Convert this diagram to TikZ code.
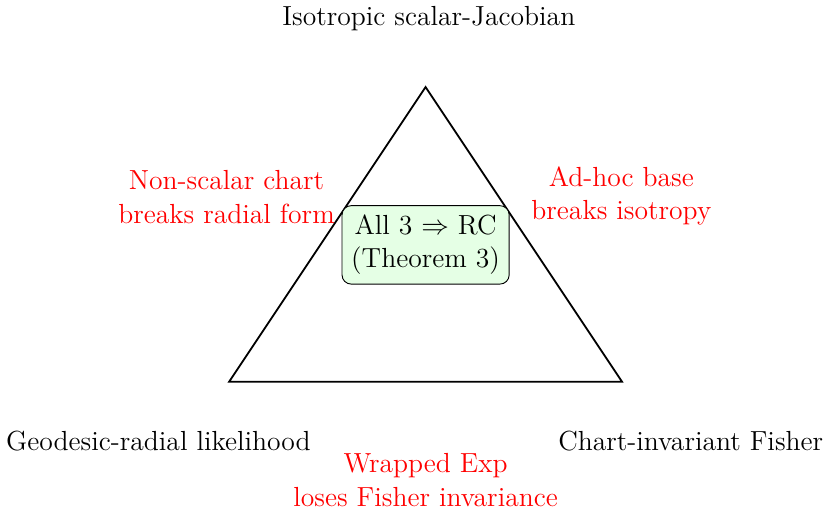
\documentclass[12pt,tikz,border=0pt]{standalone}
\usepackage{amsmath,amssymb}
\usepackage{xcolor}
\usepackage{tikz}
\usetikzlibrary{shapes,arrows,positioning}

\begin{document}
\begin{tikzpicture}[scale=1.0,
    flaw/.style={text=red, align=center},
    corner/.style={align=center},
    result/.style={draw, rounded corners, fill=green!10, align=center}]
\useasboundingbox (-6.5,-3.52) rectangle (6.1,4.33);
% Triangle corners
\coordinate (top) at (0,3);
\coordinate (left) at (-3,-1.5);
\coordinate (right) at (3,-1.5);
\draw[thick] (top) -- (left) -- (right) -- cycle;
% Properties at the corners
\node[corner] (iso) at (0.05,4.05) {Isotropic scalar-Jacobian};
\node[corner] (geo) at (-4.08,-2.4) {Geodesic-radial likelihood};
\node[corner] (fish) at (4.05,-2.4) {Chart-invariant Fisher};
% What breaks each side
\node[flaw] (nonscalar) at (-3.04,1.32) {Non-scalar chart\\breaks radial form};
\node[flaw] (adhoc) at (2.99,1.34) {Ad-hoc base\\breaks isotropy};
\node[flaw] (wrapped) at (0,-3.0) {Wrapped Exp\\loses Fisher invariance};
% Center
\node[result] (rc) at (0,0.59) {All 3 $\Rightarrow$ RC\\(Theorem 3)};
\end{tikzpicture}
\end{document}
